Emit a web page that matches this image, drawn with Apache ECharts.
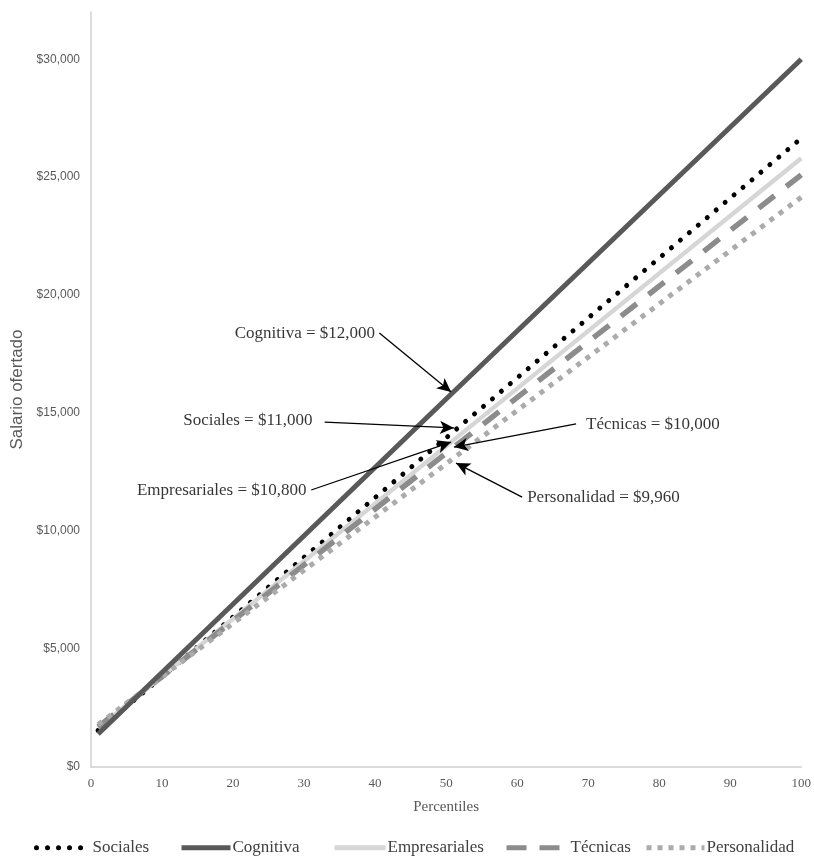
<!DOCTYPE html>
<html>
<head>
<meta charset="utf-8">
<script src="https://cdn.jsdelivr.net/npm/echarts@6/dist/echarts.min.js"></script>
<style>
html,body{margin:0;padding:0;background:#fff;}
#chart{width:814px;height:857px;}
</style>
</head>
<body>
<div id="chart"></div>
<script>
// Data
const percentiles = [1, 50, 100];
const sociales = [1550, 13950, 26650];
const cognitiva = [1400, 15600, 30000];
const empresariales = [1650, 13600, 25800];
const tecnicas = [1700, 13300, 25100];
const personalidad = [1800, 12850, 24150];
const seriesNames = ['Sociales', 'Cognitiva', 'Empresariales', 'Técnicas', 'Personalidad'];
const xTicks = [0, 10, 20, 30, 40, 50, 60, 70, 80, 90, 100];
const yTicks = [0, 5000, 10000, 15000, 20000, 25000, 30000];

// Annotations: text, text anchor [x,y], arrow start [x,y], arrow tip [x,y]
const annTexts = ['Cognitiva = $12,000', 'Sociales = $11,000', 'Empresariales = $10,800', 'Técnicas = $10,000', 'Personalidad = $9,960'];
const annTextPos = [[40.0, 18390], [31.2, 14700], [30.35, 11700], [69.7, 14500], [61.4, 11440]];
const annSide = ['left', 'left', 'left', 'right', 'right'];
const annFrom = [[40.6, 18390], [32.9, 14620], [31.0, 11740], [68.3, 14540], [60.7, 11440]];
const annTo = [[50.7, 15890], [51.1, 14370], [50.7, 13770], [51.1, 13560], [51.4, 12880]];

const pairs = (vals) => percentiles.map((p, i) => [p, vals[i]]);

const serif = '"Liberation Serif", "Times New Roman", serif';
const sans = '"Liberation Sans", Arial, sans-serif';

const styles = {
  'Sociales': {color: '#000000', width: 5, type: [0.01, 11.7], cap: 'round'},
  'Cognitiva': {color: '#595959', width: 5, type: 'solid', cap: 'butt'},
  'Empresariales': {color: '#d6d6d6', width: 4.5, type: 'solid', cap: 'butt'},
  'Técnicas': {color: '#8c8c8c', width: 5.5, type: [20, 15], cap: 'butt'},
  'Personalidad': {color: '#ababab', width: 5, type: [5, 6.5], cap: 'butt'}
};
const legendDash = {
  'Sociales': [0.01, 11], 'Cognitiva': 'solid', 'Empresariales': 'solid',
  'Técnicas': [20, 13], 'Personalidad': [5, 6]
};
const dataBy = {
  'Sociales': sociales, 'Cognitiva': cognitiva, 'Empresariales': empresariales,
  'Técnicas': tecnicas, 'Personalidad': personalidad
};

const series = seriesNames.map(n => ({
  name: n,
  type: 'line',
  data: pairs(dataBy[n]),
  symbol: 'none',
  showSymbol: false,
  silent: true,
  animation: false,
  z: n === 'Cognitiva' ? 3 : 2,
  lineStyle: {color: styles[n].color, width: styles[n].width, type: styles[n].type, cap: styles[n].cap},
  itemStyle: {color: styles[n].color}
}));

// annotation series
series.push({
  type: 'scatter',
  name: '__ann',
  data: annTexts.map((t, i) => ({value: annTextPos[i], name: t,
    label: {show: true, position: annSide[i], distance: 0, formatter: t,
      fontFamily: serif, fontSize: 17, color: '#000'}})),
  symbolSize: 0.1,
  itemStyle: {color: 'rgba(0,0,0,0)'},
  silent: true,
  animation: false,
  z: 5,
  markLine: {
    silent: true,
    animation: false,
    symbol: ['none', 'arrow'],
    symbolSize: [10, 14],
    label: {show: false},
    lineStyle: {color: '#000', width: 1.3, type: 'solid'},
    data: annFrom.map((f, i) => [{coord: f}, {coord: annTo[i]}])
  }
});

// legends, one per item to match positions
const legendLeft = [29, 174, 327, 499, 639];
const legendIconW = [54, 49, 51, 62, 58];
const legends = seriesNames.map((n, i) => ({
  data: [n],
  left: legendLeft[i],
  top: 834,
  orient: 'horizontal',
  itemWidth: legendIconW[i],
  itemHeight: 22,
  itemGap: 0,
  selectedMode: false,
  itemStyle: {opacity: 0, borderWidth: 0},
  lineStyle: {color: styles[n].color, width: 5, type: legendDash[n], cap: styles[n].cap},
  textStyle: {fontFamily: serif, fontSize: 17, color: '#404040', padding: [0, 0, 0, -3]}
}));

const chart = echarts.init(document.getElementById('chart'), null, {renderer: 'canvas'});
chart.setOption({
  backgroundColor: '#ffffff',
  animation: false,
  legend: legends,
  grid: {left: 91, right: 11, top: 12, bottom: 90, containLabel: false},
  xAxis: {
    type: 'value', min: 0, max: 100, interval: 10,
    name: 'Percentiles', nameLocation: 'middle', nameGap: 33,
    nameTextStyle: {fontFamily: serif, fontSize: 15, color: '#595959'},
    axisLine: {show: true, lineStyle: {color: '#d0d0d0', width: 1.5}},
    axisTick: {show: false},
    splitLine: {show: false},
    axisLabel: {fontFamily: serif, fontSize: 13, color: '#595959', margin: 10,
      formatter: v => xTicks.includes(v) ? String(v) : ''}
  },
  yAxis: {
    type: 'value', min: 0, max: 32000, interval: 5000,
    name: 'Salario ofertado', nameLocation: 'middle', nameGap: 65,
    nameTextStyle: {fontFamily: sans, fontSize: 17, color: '#595959'},
    axisLine: {show: true, lineStyle: {color: '#d0d0d0', width: 1.5}},
    axisTick: {show: false},
    splitLine: {show: false},
    axisLabel: {fontFamily: sans, fontSize: 12, color: '#595959', margin: 11, showMaxLabel: false,
      formatter: v => yTicks.includes(v) ? '$' + v.toLocaleString('en-US') : ''}
  },
  series: series
});
</script>
</body>
</html>
